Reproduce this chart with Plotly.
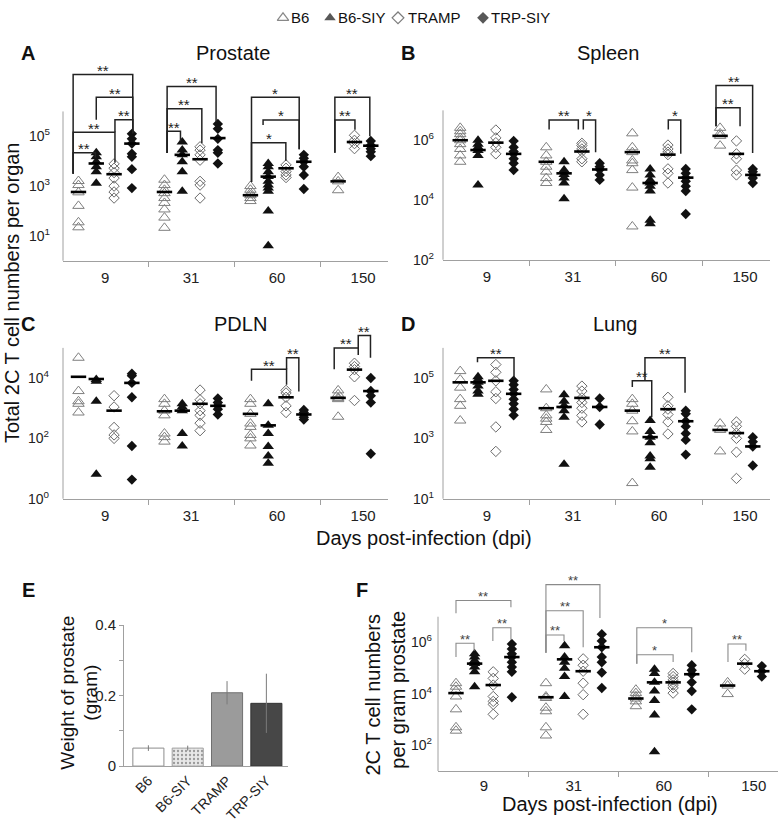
import plotly.graph_objects as go
import numpy as np

W, H = 784, 826
FONT = "Liberation Sans, Arial, sans-serif"

days = ["9", "31", "60", "150"]
series = ["B6", "B6-SIY", "TRAMP", "TRP-SIY"]

# ---------------- Panel A: Prostate (cells per organ) ----------------
a_b6 = [[1600, 1100, 560, 160, 35, 22],
        [1800, 1100, 710, 520, 330, 210, 115, 54, 21],
        [1000, 710, 520, 430, 330, 250],
        [2300, 1550, 680]]
a_b6siy = [[22000, 15000, 9500, 6000, 3800, 1300],
           [59000, 28000, 18000, 9500, 3800, 620],
           [8100, 6000, 3800, 2400, 1550, 1100, 830, 620, 100, 4],
           []]
a_tramp = [[7800, 5200, 3500, 2100, 1000, 580, 330],
           [38000, 28000, 18000, 11000, 1550, 1100, 330],
           [7100, 5200, 3800, 2800, 2200],
           [110000, 69000, 51000, 32000]]
a_trp = [[126000, 79000, 51000, 20000, 15000, 4800, 830],
         [316000, 200000, 79000, 28000, 22000, 8100],
         [18000, 13000, 9500, 6000, 2800, 760],
         [65000, 44000, 32000, 24000, 16000]]
a_mean_b6 = [580, 580, 430, 1550]
a_mean_b6siy = [8100, 18000, 2400, None]
a_mean_tramp = [3000, 12000, 5200, 59000]
a_mean_trp = [51000, 85000, 9500, 42000]

# ---------------- Panel B: Spleen ----------------
b_b6 = [[2.6e6, 2.0e6, 1.6e6, 1.2e6, 1.0e6, 7.4e5, 5.1e5, 3.1e5, 1.9e5],
        [5.8e5, 3.1e5, 1.9e5, 1.3e5, 8.9e4, 5.4e4, 3.7e4],
        [1.7e6, 5.8e5, 4.0e5, 2.1e5, 1.7e5, 1.0e5, 2.6e4, 1.3e3],
        [2.6e6, 1.7e6, 1.4e6, 6.6e5]]
b_b6siy = [[1.0e6, 7.4e5, 5.8e5, 4.5e5, 3.1e5, 3.2e4],
           [1.9e5, 1.0e5, 7.2e4, 5.4e4, 3.7e4, 1.1e4],
           [1.1e5, 6.9e4, 4.7e4, 3.7e4, 2.9e4, 2.0e4, 2.1e3, 1.6e3],
           []]
b_tramp = [[2.2e6, 1.2e6, 8.3e5, 5.8e5, 3.5e5],
           [7.9e5, 6.6e5, 5.1e5, 4.2e5, 2.4e5, 1.9e5],
           [6.9e5, 5.1e5, 4.0e5, 3.3e5, 1.1e5, 7.8e4, 3.7e4],
           [9.5e5, 3.5e5, 2.4e5, 1.0e5, 6.9e4]]
b_trp = [[9.5e5, 5.8e5, 4.2e5, 3.5e5, 2.4e5, 1.7e5, 1.0e5],
         [1.7e5, 1.3e5, 1.05e5, 6.9e4, 4.7e4],
         [1.1e5, 7.8e4, 5.6e4, 4.2e4, 2.9e4, 2.0e4, 3.4e3],
         [1.1e5, 8.9e4, 6.9e4, 5.4e4, 3.7e4]]
b_mean_b6 = [1.0e6, 1.9e5, 4.0e5, 1.4e6]
b_mean_b6siy = [4.7e5, 7.8e4, 3.7e4, None]
b_mean_tramp = [8.3e5, 4.2e5, 3.3e5, 3.5e5]
b_mean_trp = [3.5e5, 1.05e5, 5.6e4, 6.9e4]

# ---------------- Panel C: PDLN ----------------
c_b6 = [[4.7e4, 3700, 1700, 1400, 720],
        [2000, 1400, 830, 580, 145, 110, 78],
        [2000, 1400, 650, 310, 240, 130, 100, 58],
        [3900, 2900, 2200, 2000, 520]]
c_b6siy = [[8900, 7800, 1700, 6.5],
           [1400, 1100, 830, 145, 56],
           [1400, 270, 145, 54, 26, 15],
           []]
c_tramp = [[2600, 1100, 230, 130, 100],
           [4000, 1900, 1400, 830, 580, 320, 180],
           [3900, 3200, 2300, 1200, 720],
           [31000, 24000, 19000, 11000, 1800]]
c_trp = [[14000, 12000, 6900, 2300, 56, 4.3],
         [2100, 1550, 1200, 930, 620],
         [870, 720, 620, 500, 420],
         [10000, 3700, 2600, 1550, 31]]
c_mean_b6 = [11000, 790, 650, 2200]
c_mean_b6siy = [9300, 830, 270, None]
c_mean_tramp = [830, 1400, 2300, 19000]
c_mean_trp = [6900, 1200, 620, 3700]

# ---------------- Panel D: Lung ----------------
d_b6 = [[1.7e5, 8.9e4, 4.8e4, 2.0e4, 1.2e4, 3.9e3],
        [4.2e4, 1.0e4, 5.8e3, 4.5e3, 3.5e3, 1.9e3],
        [2.0e4, 1.4e4, 8.3e3, 3.7e3, 1.7e3, 33],
        [3.1e3, 1.9e3, 370]]
d_b6siy = [[1.1e5, 8.9e4, 7.2e4, 5.4e4, 3.7e4, 2.9e4],
           [2.8e4, 1.7e4, 1.2e4, 8.3e3, 5.0e3, 140],
           [3.9e3, 1.7e3, 1.1e3, 720, 260, 210, 110],
           []]
d_tramp = [[2.8e5, 1.55e5, 8.1e4, 3.5e4, 2.1e4, 2.4e3, 370],
           [5.4e4, 3.7e4, 2.2e4, 1.55e4, 1.0e4, 5.8e3, 3.5e3],
           [2.3e4, 1.2e4, 9.3e3, 6.2e3, 3.5e3, 1.4e3],
           [3.5e3, 2.5e3, 1.5e3, 1.0e3, 350, 47]]
d_trp = [[8.1e4, 6.0e4, 4.2e4, 3.0e4, 2.0e4, 1.4e4, 9.3e3, 5.8e3],
         [2.1e4, 1.1e4, 2.9e3],
         [8.3e3, 6.5e3, 3.7e3, 2.5e3, 1.45e3, 890, 290],
         [1.1e3, 780, 540, 126]]
d_mean_b6 = [7.2e4, 1.0e4, 8.3e3, 1.9e3]
d_mean_b6siy = [7.2e4, 1.1e4, 1.1e3, None]
d_mean_tramp = [8.1e4, 2.2e4, 9.3e3, 1.5e3]
d_mean_trp = [3.0e4, 1.1e4, 3.7e3, 540]

# ---------------- Panel E: prostate weight ----------------
weights = [0.051, 0.051, 0.208, 0.178]
weight_err = [0.008, 0.007, 0.033, 0.084]

# ---------------- Panel F: per gram prostate ----------------
f_b6 = [[2.6e4, 1.9e4, 1.3e4, 7.9e3, 2.5e3, 500, 370],
        [2.6e4, 7.9e3, 6.9e3, 2.9e3, 2.1e3, 500, 240],
        [1.45e4, 1.07e4, 7.9e3, 6.6e3, 5.1e3, 3.3e3],
        [2.8e4, 2.1e4, 9.8e3]]
f_b6siy = [[3.6e5, 2.7e5, 2.0e5, 1.5e5, 1.1e5, 7.2e4, 1.9e4],
           [7.4e5, 2.7e5, 1.7e5, 1.0e5, 4.7e4, 7.9e3],
           [9.1e4, 6.2e4, 2.8e4, 1.3e4, 5.5e3, 1.5e3, 56],
           []]
f_tramp = [[7.2e4, 4.0e4, 2.2e4, 7.9e3, 5.1e3, 3.9e3, 1.6e3],
           [2.3e5, 1.3e5, 7.6e4, 2.6e4, 9.3e3, 1.6e3],
           [6.2e4, 4.7e4, 3.5e4, 2.8e4, 2.2e4, 1.7e4, 1.07e4],
           [2.2e5, 1.5e5, 9.1e4]]
f_trp = [[8.7e5, 5.6e5, 3.6e5, 2.7e5, 1.7e5, 1.1e5, 7.2e4, 7.4e3],
         [2.1e6, 1.15e6, 6.5e5, 2.7e5, 1.7e5, 6.8e4, 1.7e4],
         [1.3e5, 8.3e4, 5.8e4, 2.8e4, 1.3e4, 2.5e3],
         [1.2e5, 7.6e4, 4.7e4]]
f_mean_b6 = [1.07e4, 7.4e3, 6.6e3, 2.1e4]
f_mean_b6siy = [1.5e5, 2.2e5, 2.8e4, None]
f_mean_tramp = [2.2e4, 7.6e4, 2.8e4, 1.5e5]
f_mean_trp = [2.7e5, 6.5e5, 5.8e4, 7.6e4]

# significance brackets: (group, left slot, right slot, top, left end, right end [log10 levels], label)
a_brackets = [(0, -0.3, 3.05, 7.49, 3.5, 5.12, "**"), (0, 1.0, 3.05, 6.57, 5.67, 5.12, "**"),
              (0, 2.05, 3.05, 5.67, 5.16, 5.12, "**"), (0, -0.3, 2.05, 5.16, 3.5, 3.94, "**"),
              (0, -0.3, 0.95, 4.34, 3.5, 4.15, "**"),
              (1, 0.15, 2.9, 7.0, 4.33, 5.59, "**"), (1, 0.15, 2.1, 6.11, 4.33, 4.72, "**"),
              (1, 0.15, 0.9, 5.2, 4.33, 4.8, "**"),
              (2, 0.06, 2.74, 6.57, 3.16, 4.48, "*"), (2, 0.71, 2.74, 5.66, 5.46, 4.48, "*"),
              (2, 0.06, 1.99, 4.74, 3.16, 4.02, "*"),
              (3, -0.2, 1.94, 6.57, 4.34, 5.0, "**"), (3, -0.2, 1.03, 5.66, 4.34, 5.26, "**")]
b_brackets = [(1, 0.16, 1.8, 6.68, 6.36, 6.36, "**"), (1, 2.08, 2.77, 6.68, 6.36, 5.6, "*"),
              (2, 2.02, 2.72, 6.68, 6.36, 5.55, "*"),
              (3, -0.25, 1.99, 7.83, 6.47, 5.57, "**"), (3, -0.25, 1.22, 7.09, 6.47, 6.47, "**")]
c_brackets = [(2, 0.06, 2.03, 4.29, 3.91, 3.78, "**"), (2, 2.03, 2.72, 4.67, 4.29, 3.55, "**"),
              (3, -0.24, 1.23, 5.0, 4.29, 4.76, "**"), (3, 1.23, 1.98, 5.41, 5.0, 4.67, "**")]
d_brackets = [(0, 0.97, 3.02, 5.67, 5.52, 5.0, "**"), (2, 0.0, 1.09, 4.91, 4.7, 3.7, "**"),
              (2, 0.71, 2.96, 5.67, 4.91, 4.51, "**")]
f_brackets = [(0, 0.0, 2.95, 7.63, 7.14, 7.37, "**"), (0, 0.0, 0.97, 5.97, 5.43, 5.68, "**"),
              (0, 1.98, 2.95, 6.57, 6.06, 6.1, "**"),
              (1, 0.0, 2.9, 8.25, 5.6, 6.95, "**"), (1, 0.0, 2.0, 7.23, 5.6, 5.81, "**"),
              (1, 0.0, 0.97, 6.29, 5.6, 6.06, "**"),
              (2, 0.05, 3.0, 6.57, 5.17, 5.62, "*"), (2, 0.05, 2.0, 5.52, 5.17, 5.24, "*"),
              (3, 0.02, 1.07, 5.94, 5.24, 5.68, "**")]

# ---------------- styling / layout helpers ----------------
def slot_x(g, s):
    return g + ((-0.31 + 0.207 * s) if g < 3 else (-0.29 + 0.19 * s))

SLOTS_150 = [0, None, 1, 2]

def pxx(px):
    return px / W

def pxy(py):
    return 1 - py / H

STYLES = [
    dict(symbol="triangle-up-open", color="#7f7f7f", size=10, line=dict(width=1, color="#7f7f7f")),
    dict(symbol="triangle-up", color="#111111", size=10, line=dict(width=0)),
    dict(symbol="diamond-open", color="#6a6a6a", size=8, line=dict(width=1, color="#6a6a6a")),
    dict(symbol="diamond", color="#111111", size=8, line=dict(width=0)),
]

panels = [
    dict(n="", xpx=(63, 388), xr=(-0.49, 3.29), bottom=257, decade=25.4, r0=0, atop=6, ext=56,
         ticks=[1, 3, 5], ystand=12, xstand=3, pts=[a_b6, a_b6siy, a_tramp, a_trp],
         means=[a_mean_b6, a_mean_b6siy, a_mean_tramp, a_mean_trp], br=a_brackets,
         bc="#222222", bw=1.5, bf=15),
    dict(n="2", xpx=(443, 770), xr=(-0.51, 3.29), bottom=256, decade=30.5, r0=2, atop=7, ext=58,
         ticks=[2, 4, 6], ystand=8, xstand=3, pts=[b_b6, b_b6siy, b_tramp, b_trp],
         means=[b_mean_b6, b_mean_b6siy, b_mean_tramp, b_mean_trp], br=b_brackets,
         bc="#222222", bw=1.5, bf=15),
    dict(n="3", xpx=(63, 388), xr=(-0.49, 3.29), bottom=500, decade=30.8, r0=0, atop=5, ext=316,
         ticks=[0, 2, 4], ystand=13, xstand=3, pts=[c_b6, c_b6siy, c_tramp, c_trp],
         means=[c_mean_b6, c_mean_b6siy, c_mean_tramp, c_mean_trp], br=c_brackets,
         bc="#222222", bw=1.5, bf=15),
    dict(n="4", xpx=(443, 770), xr=(-0.51, 3.29), bottom=500, decade=30.8, r0=1, atop=6, ext=333,
         ticks=[1, 3, 5], ystand=8, xstand=3, pts=[d_b6, d_b6siy, d_tramp, d_trp],
         means=[d_mean_b6, d_mean_b6siy, d_mean_tramp, d_mean_trp], br=d_brackets,
         bc="#222222", bw=1.5, bf=15),
    dict(n="6", xpx=(438, 778), xr=(-0.51, 3.27), bottom=778, decade=26.25, r0=1, atop=7, ext=563,
         ticks=[2, 4, 6], ystand=5, xstand=1, pts=[f_b6, f_b6siy, f_tramp, f_trp],
         means=[f_mean_b6, f_mean_b6siy, f_mean_tramp, f_mean_trp], br=f_brackets,
         bc="#8a8a8a", bw=1.1, bf=13),
]

fig = go.Figure()
layout = dict(width=W, height=H, margin=dict(l=0, r=0, t=0, b=0), paper_bgcolor="white",
              plot_bgcolor="white", showlegend=False, font=dict(family=FONT, color="#111111"))
shapes = []
annotations = []

for p in panels:
    n = p["n"]
    xa, ya = "x" + n, "y" + n
    r1 = p["r0"] + (p["bottom"] - p["ext"]) / p["decade"]
    layout["xaxis" + n] = dict(
        domain=[pxx(p["xpx"][0]), pxx(p["xpx"][1])], range=list(p["xr"]), anchor=ya,
        tickvals=[0, 1, 2, 3], ticktext=days, ticks="", showline=True, linecolor="#a0a0a0",
        linewidth=1, showgrid=False, zeroline=False, tickfont=dict(size=15, color="#222"),
        ticklabelstandoff=p["xstand"],
        minor=dict(tickmode="array", tickvals=[0.5, 1.5, 2.5], ticks="outside", ticklen=5,
                   tickcolor="#a0a0a0", tickwidth=1, showgrid=False))
    layout["yaxis" + n] = dict(
        domain=[pxy(p["bottom"]), pxy(p["ext"])], type="log", range=[p["r0"], r1], anchor=xa,
        tickvals=[10 ** k for k in p["ticks"]], ticktext=["10<sup>%d</sup>" % k for k in p["ticks"]],
        ticks="", showline=False, showgrid=False, zeroline=False,
        tickfont=dict(size=14, color="#222"), ticklabelstandoff=p["ystand"])
    shapes.append(dict(type="line", xref=xa + " domain", yref=ya + " domain", x0=0, x1=0, y0=0,
                       y1=(p["atop"] - p["r0"]) / (r1 - p["r0"]),
                       line=dict(color="#a0a0a0", width=1)))
    # points
    for i, st in enumerate(STYLES):
        xs, ys = [], []
        for g, vals in enumerate(p["pts"][i]):
            s = i if g < 3 else SLOTS_150[i]
            if s is None:
                continue
            xs += [slot_x(g, s)] * len(vals)
            ys += list(vals)
        fig.add_trace(go.Scatter(x=xs, y=ys, mode="markers", xaxis=xa, yaxis=ya, name=series[i],
                                 marker=st, hoverinfo="skip", cliponaxis=False))
    # mean bars
    for i in range(4):
        xs, ys = [], []
        for g, m in enumerate(p["means"][i]):
            s = i if g < 3 else SLOTS_150[i]
            if s is None or m is None:
                continue
            xs.append(slot_x(g, s))
            ys.append(m)
        fig.add_trace(go.Scatter(x=xs, y=ys, mode="markers", xaxis=xa, yaxis=ya,
                                 marker=dict(symbol="line-ew", size=11,
                                             line=dict(width=2.6, color="#000000")),
                                 hoverinfo="skip", cliponaxis=False))
    # brackets
    bx, by = [], []
    for g, sl, sr, top, lb, rb, lab in p["br"]:
        xl, xr = slot_x(g, sl), slot_x(g, sr)
        bx += [xl, xl, xr, xr, None]
        by += [10 ** lb, 10 ** top, 10 ** top, 10 ** rb, None]
        annotations.append(dict(x=(xl + xr) / 2, y=top, xref=xa, yref=ya, text=lab,
                                showarrow=False, yshift=4,
                                font=dict(size=p["bf"], color="#222" if p["bf"] > 13 else "#444")))
    fig.add_trace(go.Scatter(x=bx, y=by, mode="lines", xaxis=xa, yaxis=ya,
                             line=dict(color=p["bc"], width=p["bw"]), hoverinfo="skip"))

# ---------------- Panel E bars ----------------
fig.add_trace(go.Bar(
    x=[0, 1, 2, 3], y=weights, width=0.79, xaxis="x5", yaxis="y5",
    marker=dict(color=["#ffffff", "#e8e8e8", "#9b9b9b", "#474747"],
                line=dict(color=["#8c8c8c", "#a0a0a0", "#707070", "#333333"], width=1),
                pattern=dict(shape=["", ".", "", ""], fgcolor="#9a9a9a", size=4, solidity=0.25)),
    error_y=dict(type="data", array=weight_err, color="#7a7a7a", thickness=1, width=0),
    hoverinfo="skip"))
layout["xaxis5"] = dict(domain=[pxx(124), pxx(288)], range=[-0.62, 3.55], anchor="y5",
                        tickvals=[0, 1, 2, 3], ticktext=series, tickangle=-45, ticks="",
                        showline=True, linecolor="#a0a0a0", showgrid=False, zeroline=False,
                        tickfont=dict(size=14, color="#222"))
layout["yaxis5"] = dict(domain=[pxy(773), pxy(629)], range=[0, 0.4], anchor="x5",
                        tickvals=[0, 0.2, 0.4], ticktext=["0", "0.2", "0.4"], ticks="outside",
                        ticklen=4, tickcolor="#a0a0a0", showline=True, linecolor="#a0a0a0",
                        showgrid=False, zeroline=False, tickfont=dict(size=15, color="#222"),
                        minor=dict(tickmode="array", tickvals=[0.1, 0.3], ticks="outside",
                                   ticklen=4, tickcolor="#a0a0a0"))

# ---------------- custom legend row ----------------
leg_x = [283, 330, 398, 483]
leg_tx = [290, 337, 407, 490]
fig.add_trace(go.Scatter(
    x=leg_x, y=[9, 9, 9, 9], mode="markers", xaxis="x7", yaxis="y7",
    marker=dict(symbol=[s["symbol"] for s in STYLES], size=[10, 10, 9, 9],
                color=["#555555", "#111111", "#444444", "#111111"],
                line=dict(width=[1.2, 0, 1.2, 0], color=["#555555", "#111111", "#444444", "#111111"])),
    hoverinfo="skip", cliponaxis=False))
layout["xaxis7"] = dict(domain=[0, 1], range=[0, W], visible=False, anchor="y7")
layout["yaxis7"] = dict(domain=[pxy(26), 1], range=[26, 0], visible=False, anchor="x7")
for tx, name in zip(leg_tx, series):
    annotations.append(dict(x=tx, y=9, xref="x7", yref="y7", text=name, showarrow=False,
                            xanchor="left", yanchor="middle", borderpad=0,
                            font=dict(size=15, color="#111")))

# ---------------- titles / letters ----------------
def ptext(x, y, text, size=20, bold=False, angle=0, color="#111"):
    annotations.append(dict(x=pxx(x), y=pxy(y), xref="paper", yref="paper",
                            text=("<b>%s</b>" % text) if bold else text, showarrow=False,
                            xanchor="center", yanchor="middle", textangle=angle,
                            font=dict(size=size, color=color)))

ptext(233, 45, "Prostate")
ptext(608, 45, "Spleen")
ptext(240, 322, "PDLN")
ptext(615, 322, "Lung")
for letter, x, y in [("A", 28, 45), ("B", 408, 45), ("C", 28, 322), ("D", 408, 322),
                     ("E", 28, 593), ("F", 362, 593)]:
    ptext(x, y, letter, size=20, bold=True)
ptext(424, 540, "Days post-infection (dpi)")
ptext(610, 812, "Days post-infection (dpi)")
ptext(12, 290, "Total 2C T cell numbers per organ", angle=-90)
ptext(68, 698, "Weight of prostate", size=19, angle=-90)
ptext(91, 698, "(gram)", size=19, angle=-90)
ptext(373, 700, "2C T cell numbers", angle=-90)
ptext(398, 695, "per gram prostate", angle=-90)

layout["shapes"] = shapes
layout["annotations"] = annotations
fig.update_layout(**layout)
fig.write_html("out.html", config={"displayModeBar": False},
               post_script="document.body.style.margin='0';document.body.style.overflow='hidden';")
